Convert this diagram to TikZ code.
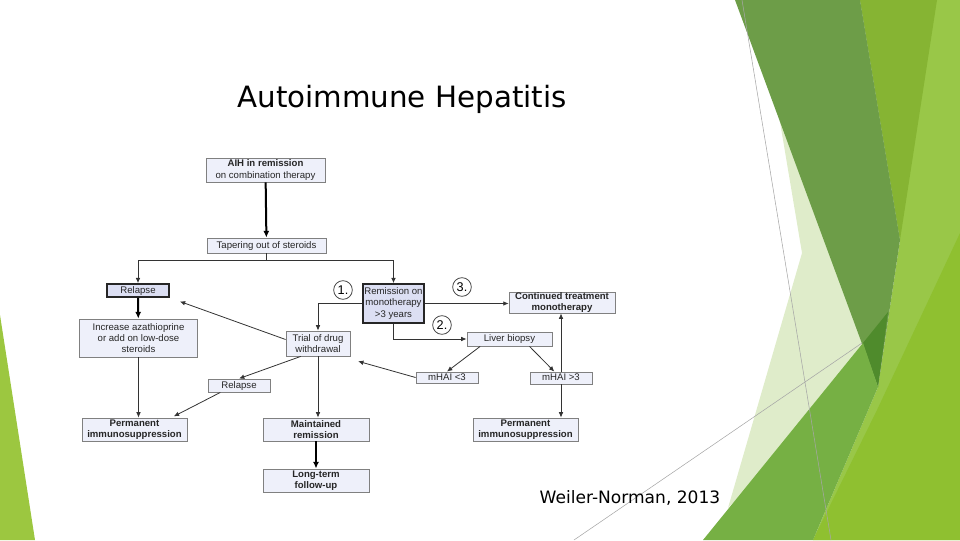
\documentclass[tikz,border=0pt]{standalone}
\usepackage{fontspec}
\setmainfont{Liberation Sans}
\newfontfamily\slidefont{DejaVu Sans}
\usetikzlibrary{arrows.meta}
\definecolor{gBase}{HTML}{99C748}
\definecolor{gOlive}{HTML}{86B433}
\definecolor{gBright}{HTML}{8FC030}
\definecolor{gPale}{HTML}{DFECCA}
\definecolor{gBand}{HTML}{6D9D48}
\definecolor{gDeep}{HTML}{4F8B2C}
\definecolor{gMid}{HTML}{76B044}
\definecolor{gLeft}{HTML}{9CC740}
\definecolor{boxfill}{HTML}{EEF0FA}
\definecolor{darkfill}{HTML}{DCDFF3}
\begin{document}
\begin{tikzpicture}[x=0.75pt,y=-0.75pt,
    box/.style={draw=black!50,fill=boxfill,line width=0.6pt,inner sep=0pt,
      font=\fontsize{7.2}{8.4}\selectfont,text=black!85},
    lines/.style={align=center},
    oneline/.style={text height=5.6pt,text depth=1.4pt},
    darkbox/.style={box,draw=black!85,fill=darkfill,line width=1.2pt},
    num/.style={draw=black!75,shape=circle,line width=0.6pt,inner sep=0pt,minimum size=14pt,
      font=\fontsize{9.5}{9.5}\selectfont},
    conn/.style={draw=black!80,line width=0.6pt,-{Latex[length=4pt,width=3.5pt]}},
    thickconn/.style={draw=black,line width=1.5pt,-{Latex[length=5pt,width=4.5pt]}}]
  \useasboundingbox (0,0) rectangle (960,540);
  % slide background
  \fill[gLeft] (0,315) -- (35,540) -- (0,540) -- cycle;
  \fill[gBase] (860,0) -- (960,0) -- (960,540) -- (813,540) -- (878,387) -- (900,240) -- cycle;
  \fill[gOlive] (860,0) -- (937,0) -- (900,240) -- cycle;
  \fill[gBright] (960,233) -- (960,540) -- (813,540) -- (877,410) -- cycle;
  \fill[gPale] (778,110) -- (802,253) -- (728,508) -- (870,360) -- cycle;
  \fill[gBand] (735,0) -- (860,0) -- (900,240) -- (878,387) -- cycle;
  \fill[gDeep] (863,343) -- (888,312) -- (878,387) -- cycle;
  \fill[gMid] (703,540) -- (863,343) -- (878,387) -- (813,540) -- cycle;
  \draw[black!35,line width=0.4pt] (742,0) -- (831,540) (574,540) -- (862,343);
  % titles
  \node (title) at (402,99) {\slidefont\fontsize{22}{26}\selectfont Autoimmune Hepatitis};
  \node (cite) at (630,498) {\slidefont\fontsize{12.8}{15}\selectfont Weiler-Norman, 2013};
  % boxes
  \node[box,lines,minimum width=89.3pt,minimum height=18pt] (aih) at (265.5,170) {\textbf{AIH in remission}\\on combination therapy};
  \node[box,oneline,minimum width=89.3pt,minimum height=11.3pt] (taper) at (266.5,245.5) {Tapering out of steroids};
  \node[darkbox,oneline,minimum width=46.5pt,minimum height=9.8pt] (relA) at (138,290.5) {Relapse};
  \node[box,lines,minimum width=88.5pt,minimum height=28.5pt] (incr) at (138.5,338) {Increase azathioprine\\or add on low-dose\\steroids};
  \node[box,lines,minimum width=78.8pt,minimum height=17.3pt] (permA) at (134.5,429.5) {\textbf{Permanent}\\\textbf{immunosuppression}};
  \node[darkbox,lines,minimum width=45.8pt,minimum height=29.3pt] (remis) at (393.5,303.5) {Remission on\\monotherapy\\>3 years};
  \node[box,lines,minimum width=48pt,minimum height=18.8pt] (trial) at (318,343.5) {Trial of drug\\withdrawal};
  \node[box,lines,minimum width=79.5pt,minimum height=15.8pt] (cont) at (562,302.5) {\textbf{Continued treatment}\\\textbf{monotherapy}};
  \node[box,oneline,minimum width=63.8pt,minimum height=10.5pt] (liver) at (509.5,339) {Liver biopsy};
  \node[box,oneline,minimum width=46.5pt,minimum height=8.3pt] (mlow) at (447,377.5) {mHAI <3};
  \node[box,oneline,minimum width=46.5pt,minimum height=9pt] (mhigh) at (561,378) {mHAI >3};
  \node[box,lines,minimum width=78.8pt,minimum height=17.3pt] (permB) at (525.5,429.5) {\textbf{Permanent}\\\textbf{immunosuppression}};
  \node[box,oneline,minimum width=46.5pt,minimum height=9.8pt] (relB) at (239,385.5) {Relapse};
  \node[box,lines,minimum width=79.5pt,minimum height=17.3pt] (maint) at (316,429.5) {\textbf{Maintained}\\\textbf{remission}};
  \node[box,lines,minimum width=79.5pt,minimum height=17.3pt] (longt) at (316,480.5) {\textbf{Long-term}\\\textbf{follow-up}};
  \node[num] (one) at (343,290) {1.};
  \node[num] (two) at (442,325) {2.};
  \node[num] (three) at (462,287) {3.};
  % connectors
  \coordinate (split) at (266.5,260);
  \draw[thickconn] (aih) -- (taper);
  \draw[draw=black!80,line width=0.6pt] (taper) -- (split);
  \draw[conn] (split) -| (relA);
  \draw[conn] (split) -| (remis);
  \draw[thickconn] (relA) -- (incr);
  \draw[conn] (incr.south) -- (incr.south |- permA.north);
  \draw[conn] (remis.west) -| (trial.north);
  \draw[conn] (remis.east) -- (remis.east -| cont.west);
  \draw[conn] (remis.south) |- (liver.west);
  \draw[conn] ([xshift=-22pt]liver.south) -- (mlow.north);
  \draw[conn] ([xshift=15pt]liver.south) -- ([xshift=-5pt]mhigh.north);
  \draw[conn] (mhigh.north) -- (mhigh.north |- cont.south);
  \draw[conn] (mhigh.south) -- (mhigh.south |- permB.north);
  \draw[conn,shorten >=6pt] (mlow.west) -- ([yshift=-2pt]trial.south east);
  \draw[conn,shorten >=8pt] ([yshift=3pt]trial.west) -- (relA.south east);
  \draw[conn] ([xshift=-13pt]trial.south) -- (relB.north);
  \draw[conn,shorten >=2pt] ([xshift=-14pt]relB.south) -- ([xshift=-12pt]permA.north east);
  \draw[conn] (trial.south) -- (trial.south |- maint.north);
  \draw[thickconn] (maint) -- (longt);
\end{tikzpicture}
\end{document}
